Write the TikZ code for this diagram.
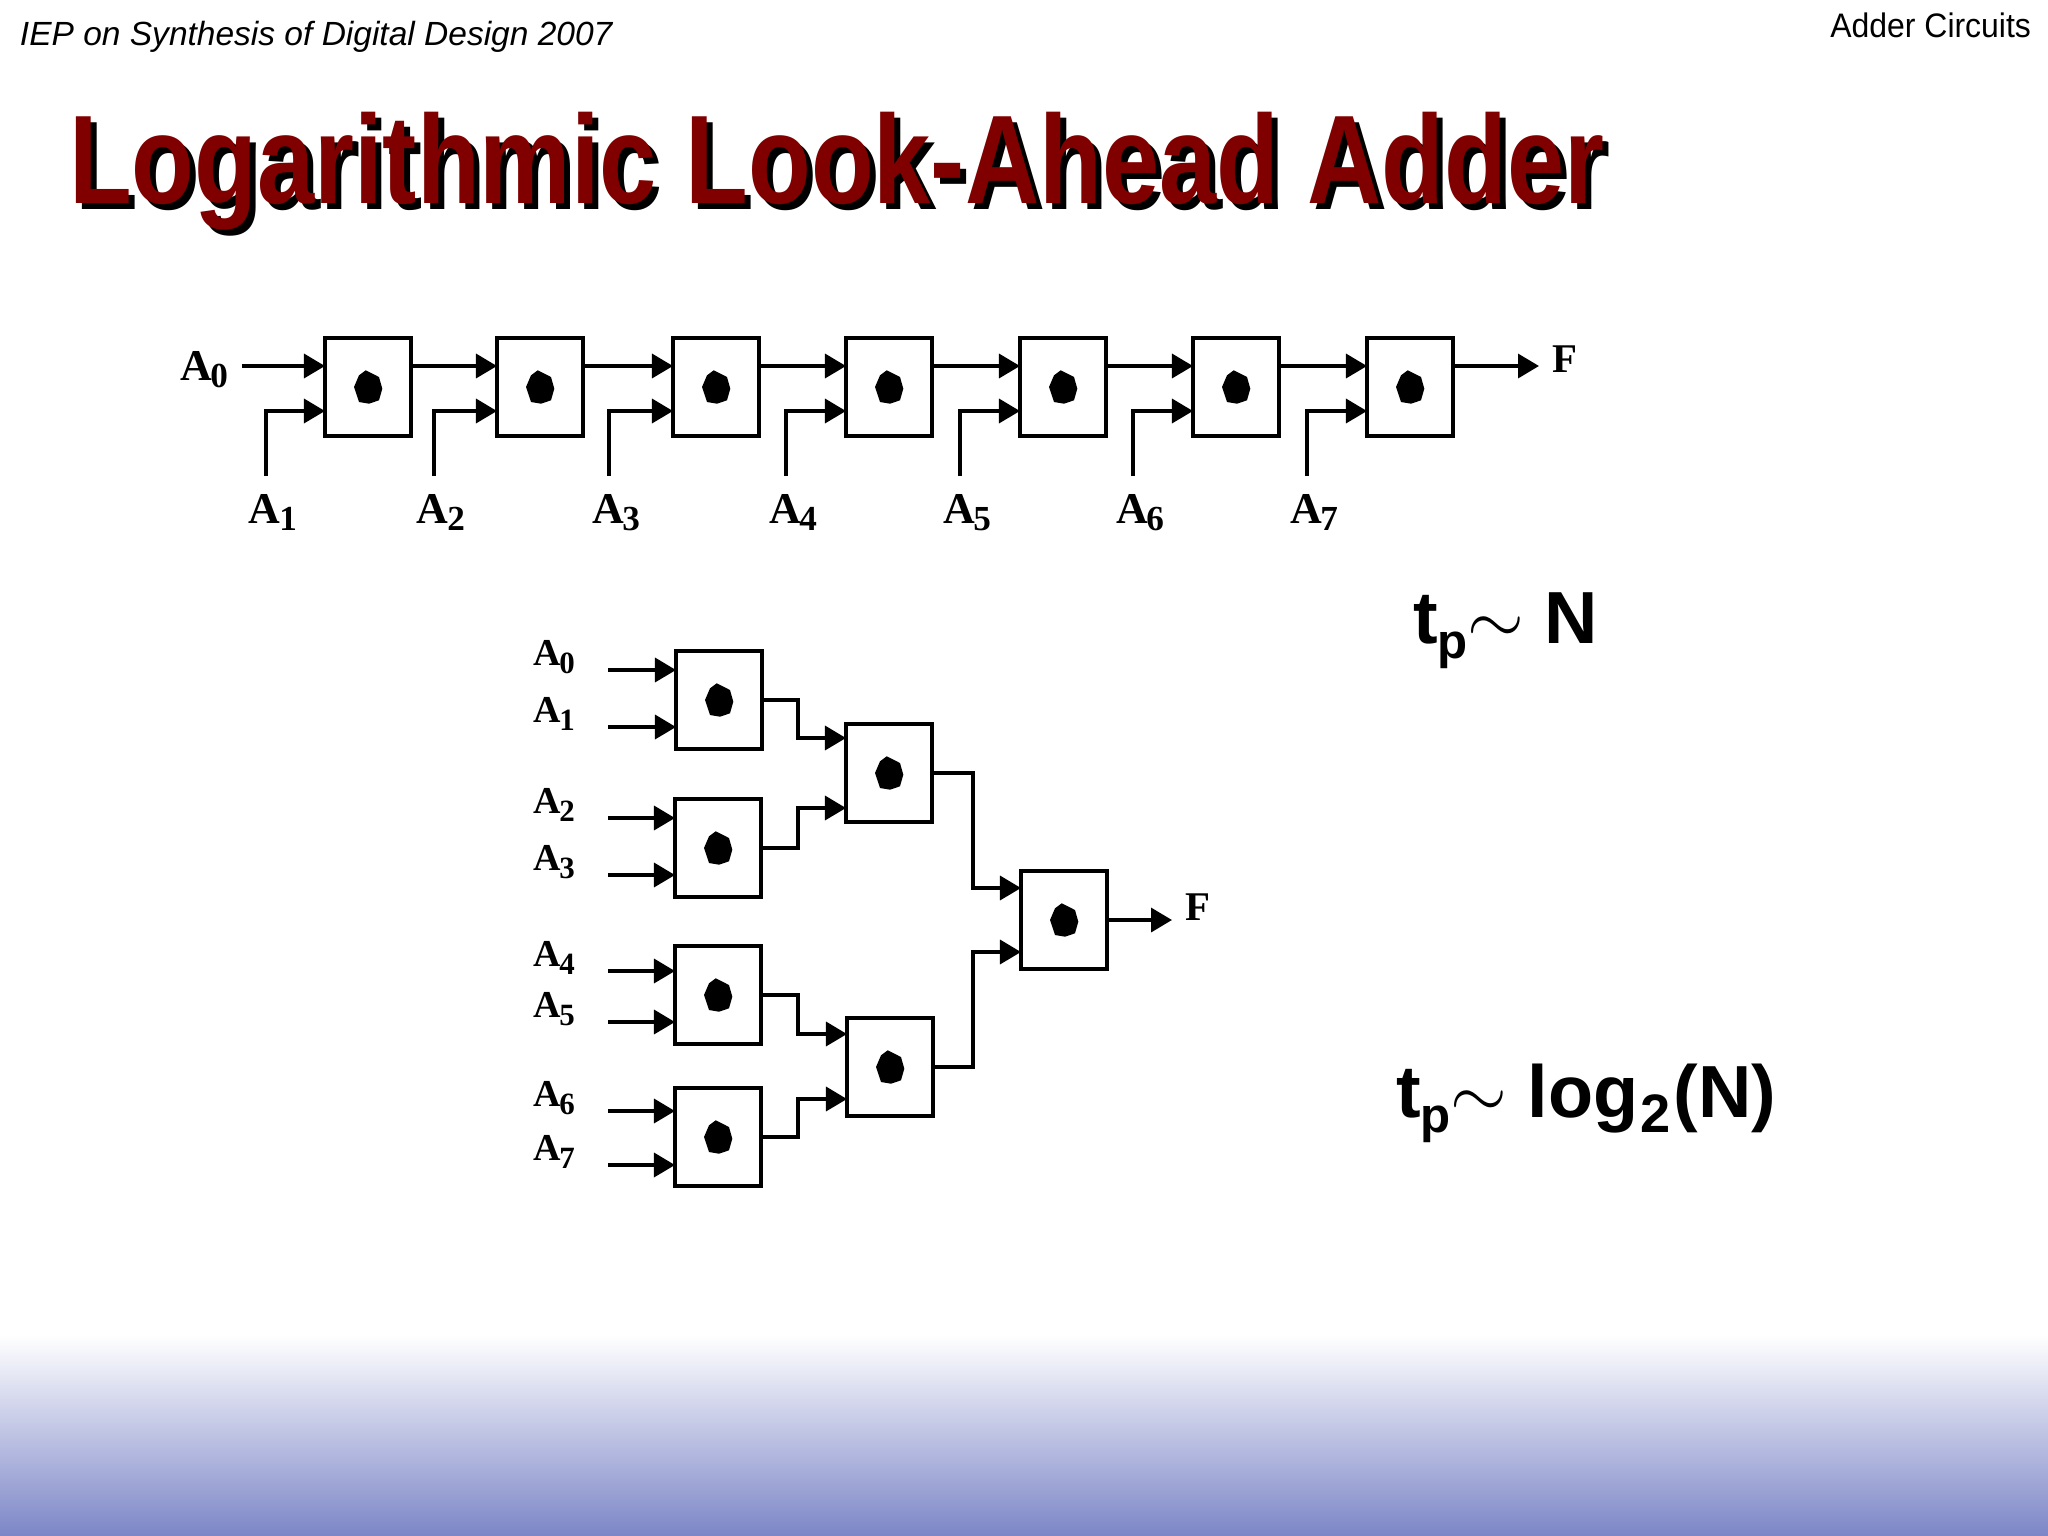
\documentclass[tikz,border=0pt]{standalone}
\usepackage{fontspec}
\usepackage{graphicx}
\setmainfont{Liberation Serif}
\setsansfont{Liberation Sans}
\usetikzlibrary{arrows.meta,calc}
\definecolor{titlered}{RGB}{128,0,0}
\definecolor{gradblue}{RGB}{124,134,199}
\newcommand\toplbl[1]{{\fontsize{12.5}{14}\selectfont\bfseries A\kern-0.03em\raisebox{-2.2pt}{\fontsize{10}{12}\selectfont #1}}}
\newcommand\treelbl[1]{{\fontsize{10.8}{12}\selectfont\bfseries A\kern-0.03em\raisebox{-2.3pt}{\fontsize{8.8}{10}\selectfont #1}}}
\newcommand\blob[1]{\fill[shift={(#1.center)}] (-2.3,-16.7) -- (11,-10) -- (14.3,1.7) -- (11,13.3) -- (1,16.7) -- (-9,15) -- (-14,0) -- (-9,-11.7) -- cycle;}
\tikzset{
  box/.style={draw, line width=0.04cm, minimum width=0.86cm, minimum height=0.98cm, inner sep=0, outer sep=0},
  wire/.style={line width=0.035cm},
  arr/.style={wire, -{Triangle[length=0.21cm, width=0.24cm]}},
  lbl/.style={inner sep=0, outer sep=0},
  flbl/.style={inner sep=0, outer sep=0, font=\fontsize{11.6}{13}\selectfont\bfseries},
  tpfont/.style={font=\sffamily\bfseries\fontsize{21}{24}\selectfont},
}
\begin{document}
\begin{tikzpicture}[x=0.01cm,y=-0.01cm]
\useasboundingbox (0,0) rectangle (2048,1536);
\fill[white] (0,0) rectangle (2048,1536);
\shade[top color=white, bottom color=gradblue] (0,1335) rectangle (2048,1536);

% header
\node[lbl, anchor=base west, font=\sffamily\itshape\fontsize{9.53}{11}\selectfont] (hdr) at (20,45) {IEP on Synthesis of Digital Design 2007};
\node[lbl, anchor=base east] (hdr2) at (2031,37) {\scalebox{0.94}[1]{\sffamily\fontsize{9.67}{11}\selectfont Adder Circuits}};

% title (with drop shadow)
\node[lbl, anchor=base west, text=black] (tsh) at (75,209) {\scalebox{0.815}[1]{\sffamily\bfseries\fontsize{35.85}{40}\selectfont Logarithmic Look-Ahead Adder}};
\node[lbl, anchor=base west, text=titlered] (title) at (69,203) {\scalebox{0.815}[1]{\sffamily\bfseries\fontsize{35.85}{40}\selectfont Logarithmic Look-Ahead Adder}};

% ---------- linear chain ----------
\foreach \i/\cx in {1/368,2/540,3/716,4/889,5/1063,6/1236,7/1410}{
  \node[box] (b\i) at (\cx,387) {};
  \blob{b\i}
}
\coordinate (a0s) at (242,366);
\draw[arr] (a0s) -- ($(b1.west)+(0,-21)$);
\node[lbl, anchor=base west] (l0) at (180,380) {\toplbl{0}};
\foreach \i/\vx in {1/266,2/434,3/609,4/786,5/960,6/1133,7/1307}{
  \coordinate (v\i) at (\vx,476);
  \draw[arr] (v\i) |- ($(b\i.west)+(0,24)$);
  \node[lbl, anchor=base] (l\i) at (\vx+7,523) {\toplbl{\i}};
}
\foreach \i in {1,...,6}{
  \pgfmathtruncatemacro\j{\i+1}
  \draw[arr] ($(b\i.east)+(0,-21)$) -- ($(b\j.west)+(0,-21)$);
}
\coordinate (fo1) at (1539,366);
\draw[arr] ($(b7.east)+(0,-21)$) -- (fo1);
\node[flbl, anchor=base west] (f1) at (1552,372) {F};

% ---------- tree ----------
\node[box] (t1) at (719,700) {};
\node[box] (t2) at (718,848) {};
\node[box] (t3) at (718,995) {};
\node[box] (t4) at (718,1137) {};
\node[box] (t5) at (889,773) {};
\node[box] (t6) at (890,1067) {};
\node[box] (t7) at (1064,920) {};
\foreach \n in {t1,t2,t3,t4,t5,t6,t7}{\blob{\n}}

\foreach \k/\yy/\bx in {0/670/t1,1/727/t1,2/818/t2,3/875/t2,4/971/t3,5/1022/t3,6/1111/t4,7/1165/t4}{
  \coordinate (i\k) at (608,\yy);
  \draw[arr] (i\k) -- (i\k -| \bx.west);
  \node[lbl, anchor=base west] (m\k) at (533,\yy-4.5) {\treelbl{\k}};
}
\coordinate (j1) at (798,0);
\coordinate (j2) at (973,0);
\draw[arr] (t1.east) -- (t1.east -| j1) |- ($(t5.west)+(0,-35)$);
\draw[arr] (t2.east) -- (t2.east -| j1) |- ($(t5.west)+(0,35)$);
\draw[arr] (t3.east) -- (t3.east -| j1) |- ($(t6.west)+(0,-33)$);
\draw[arr] (t4.east) -- (t4.east -| j1) |- ($(t6.west)+(0,32)$);
\draw[arr] (t5.east) -- (t5.east -| j2) |- ($(t7.west)+(0,-32)$);
\draw[arr] (t6.east) -- (t6.east -| j2) |- ($(t7.west)+(0,32)$);
\coordinate (fo2) at (1172,920);
\draw[arr] (t7.east) -- (fo2);
\node[flbl, anchor=base west] (f2) at (1185,920) {F};

% ---------- delay annotations ----------
\node[lbl, tpfont, anchor=base west] (tp1) at (1413,643) {t\raisebox{-4.5pt}{\fontsize{14}{16}\selectfont p}{\mdseries$\sim$}\ N};
\node[lbl, tpfont, anchor=base west] (tp2) at (1396,1117) {t\raisebox{-4.5pt}{\fontsize{14}{16}\selectfont p}{\mdseries$\sim$}\ log\kern0.02em\raisebox{-4.5pt}{\fontsize{15.4}{17}\selectfont 2}\kern0.05em(N)};
\end{tikzpicture}
\end{document}
